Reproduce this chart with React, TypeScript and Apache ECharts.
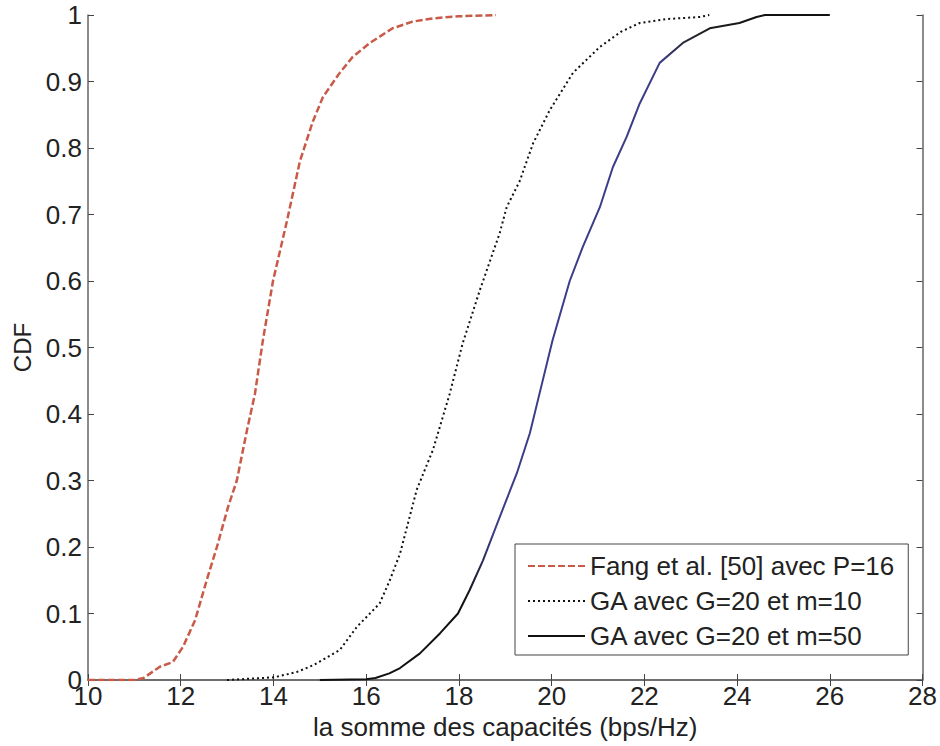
import React, { useEffect, useRef } from "react";
import * as echarts from "echarts";

const xTicks = [10, 12, 14, 16, 18, 20, 22, 24, 26, 28];
const yTicks = [0, 0.1, 0.2, 0.3, 0.4, 0.5, 0.6, 0.7, 0.8, 0.9, 1];

const seriesNames = [
  "Fang et al. [50] avec P=16",
  "GA avec G=20 et m=10",
  "GA avec G=20 et m=50",
];

const redX = [10, 11.0, 11.2, 11.55, 11.83, 12.05, 12.31, 12.56, 12.78, 13.02, 13.21, 13.43, 13.6, 13.77, 13.99, 14.29, 14.57, 14.85, 15.07, 15.43, 15.71, 16.08, 16.57, 17.0, 17.44, 18.0, 18.8];
const redY = [0, 0, 0.003, 0.02, 0.027, 0.05, 0.09, 0.15, 0.2, 0.26, 0.3, 0.376, 0.43, 0.51, 0.6, 0.69, 0.78, 0.84, 0.877, 0.913, 0.937, 0.958, 0.98, 0.99, 0.995, 0.998, 1];

const dotX = [13.0, 13.5, 14.0, 14.14, 14.5, 14.85, 15.43, 15.8, 16.29, 16.51, 16.73, 17.09, 17.44, 17.8, 18.08, 18.45, 18.88, 19.03, 19.31, 19.6, 19.96, 20.46, 21.04, 21.5, 21.9, 22.5, 23.2, 23.4];
const dotY = [0, 0.002, 0.004, 0.006, 0.012, 0.022, 0.045, 0.08, 0.115, 0.15, 0.19, 0.286, 0.346, 0.43, 0.506, 0.586, 0.672, 0.711, 0.75, 0.807, 0.857, 0.913, 0.952, 0.975, 0.988, 0.994, 0.997, 1];

const solX = [15.0, 16.0, 16.2, 16.5, 16.73, 17.16, 17.59, 17.98, 18.23, 18.52, 18.88, 19.25, 19.53, 19.74, 20.02, 20.39, 20.67, 21.04, 21.32, 21.62, 21.9, 22.33, 22.83, 23.41, 24.05, 24.42, 24.6, 26.0];
const solY = [0, 0.001, 0.003, 0.01, 0.018, 0.04, 0.07, 0.1, 0.135, 0.18, 0.245, 0.311, 0.371, 0.431, 0.511, 0.6, 0.651, 0.711, 0.771, 0.817, 0.867, 0.928, 0.958, 0.98, 0.988, 0.997, 1, 1];

const zip = (xs: number[], ys: number[]) => xs.map((x, i) => [x, ys[i]]);

const FONT = "Liberation Sans, Arial, sans-serif";

export default function App() {
  const ref = useRef<HTMLDivElement>(null);
  useEffect(() => {
    if (!ref.current) return;
    const chart = echarts.init(ref.current, undefined, { renderer: "svg" });
    const axisLine = { show: true, lineStyle: { color: "#666", width: 1.5 } };
    const tick = { show: true, inside: true, length: 6, lineStyle: { color: "#444", width: 1 } };
    const label = { color: "#222", fontSize: 26, fontFamily: FONT };
    const solidColor = new echarts.graphic.LinearGradient(0, 1, 0, 0, [
      { offset: 0, color: "#111" },
      { offset: 0.12, color: "#111" },
      { offset: 0.22, color: "#3c3c88" },
      { offset: 0.93, color: "#3c3c88" },
      { offset: 0.97, color: "#222" },
      { offset: 1, color: "#111" },
    ]);
    chart.setOption({
      animation: false,
      backgroundColor: "#fff",
      grid: { left: 88, top: 15, right: 17, bottom: 66, show: false },
      legend: {
        orient: "vertical",
        left: 515,
        top: 544,
        padding: [9, 14, 6, 12],
        itemWidth: 57,
        itemHeight: 14,
        itemGap: 9,
        backgroundColor: "#fff",
        borderColor: "#444",
        borderWidth: 1,
        itemStyle: { opacity: 0 },
        textStyle: { fontSize: 26, fontFamily: FONT, color: "#222" },
        data: [
          { name: seriesNames[0] },
          { name: seriesNames[1] },
          { name: seriesNames[2], lineStyle: { color: "#111" } },
        ],
      },
      xAxis: [
        {
          type: "value",
          min: xTicks[0],
          max: xTicks[xTicks.length - 1],
          interval: 2,
          axisLine,
          axisTick: tick,
          splitLine: { show: false },
          axisLabel: { ...label, margin: 3 },
          name: "la somme des capacités (bps/Hz)",
          nameLocation: "middle",
          nameGap: 29,
          nameTextStyle: { fontSize: 26, fontFamily: FONT, color: "#222" },
        },
        {
          type: "value",
          position: "top",
          min: xTicks[0],
          max: xTicks[xTicks.length - 1],
          interval: 2,
          axisLine,
          axisTick: tick,
          splitLine: { show: false },
          axisLabel: { show: false },
        },
      ],
      yAxis: [
        {
          type: "value",
          min: yTicks[0],
          max: yTicks[yTicks.length - 1],
          interval: 0.1,
          axisLine,
          axisTick: tick,
          splitLine: { show: false },
          axisLabel: {
            ...label,
            margin: 6,
            formatter: (v: number) => String(+v.toFixed(1)),
          },
          name: "CDF",
          nameLocation: "middle",
          nameGap: 50,
          nameTextStyle: { fontSize: 24, fontFamily: FONT, color: "#222" },
        },
        {
          type: "value",
          position: "right",
          min: yTicks[0],
          max: yTicks[yTicks.length - 1],
          interval: 0.1,
          axisLine,
          axisTick: tick,
          splitLine: { show: false },
          axisLabel: { show: false },
        },
      ],
      series: [
        {
          name: seriesNames[0],
          type: "line",
          data: zip(redX, redY),
          symbol: "none",
          lineStyle: { color: "#c95a48", width: 2.5, type: [7, 3] },
          itemStyle: { color: "#c95a48" },
        },
        {
          name: seriesNames[1],
          type: "line",
          data: zip(dotX, dotY),
          symbol: "none",
          lineStyle: { color: "#111", width: 2, type: [2, 3] },
          itemStyle: { color: "#111" },
        },
        {
          name: seriesNames[2],
          type: "line",
          data: zip(solX, solY),
          symbol: "none",
          lineStyle: { color: solidColor, width: 2 },
          itemStyle: { color: "#111" },
        },
      ],
    });
    return () => chart.dispose();
  }, []);
  return (
    <div
      ref={ref}
      style={{ position: "fixed", left: 0, top: 0, width: 940, height: 746 }}
    />
  );
}
